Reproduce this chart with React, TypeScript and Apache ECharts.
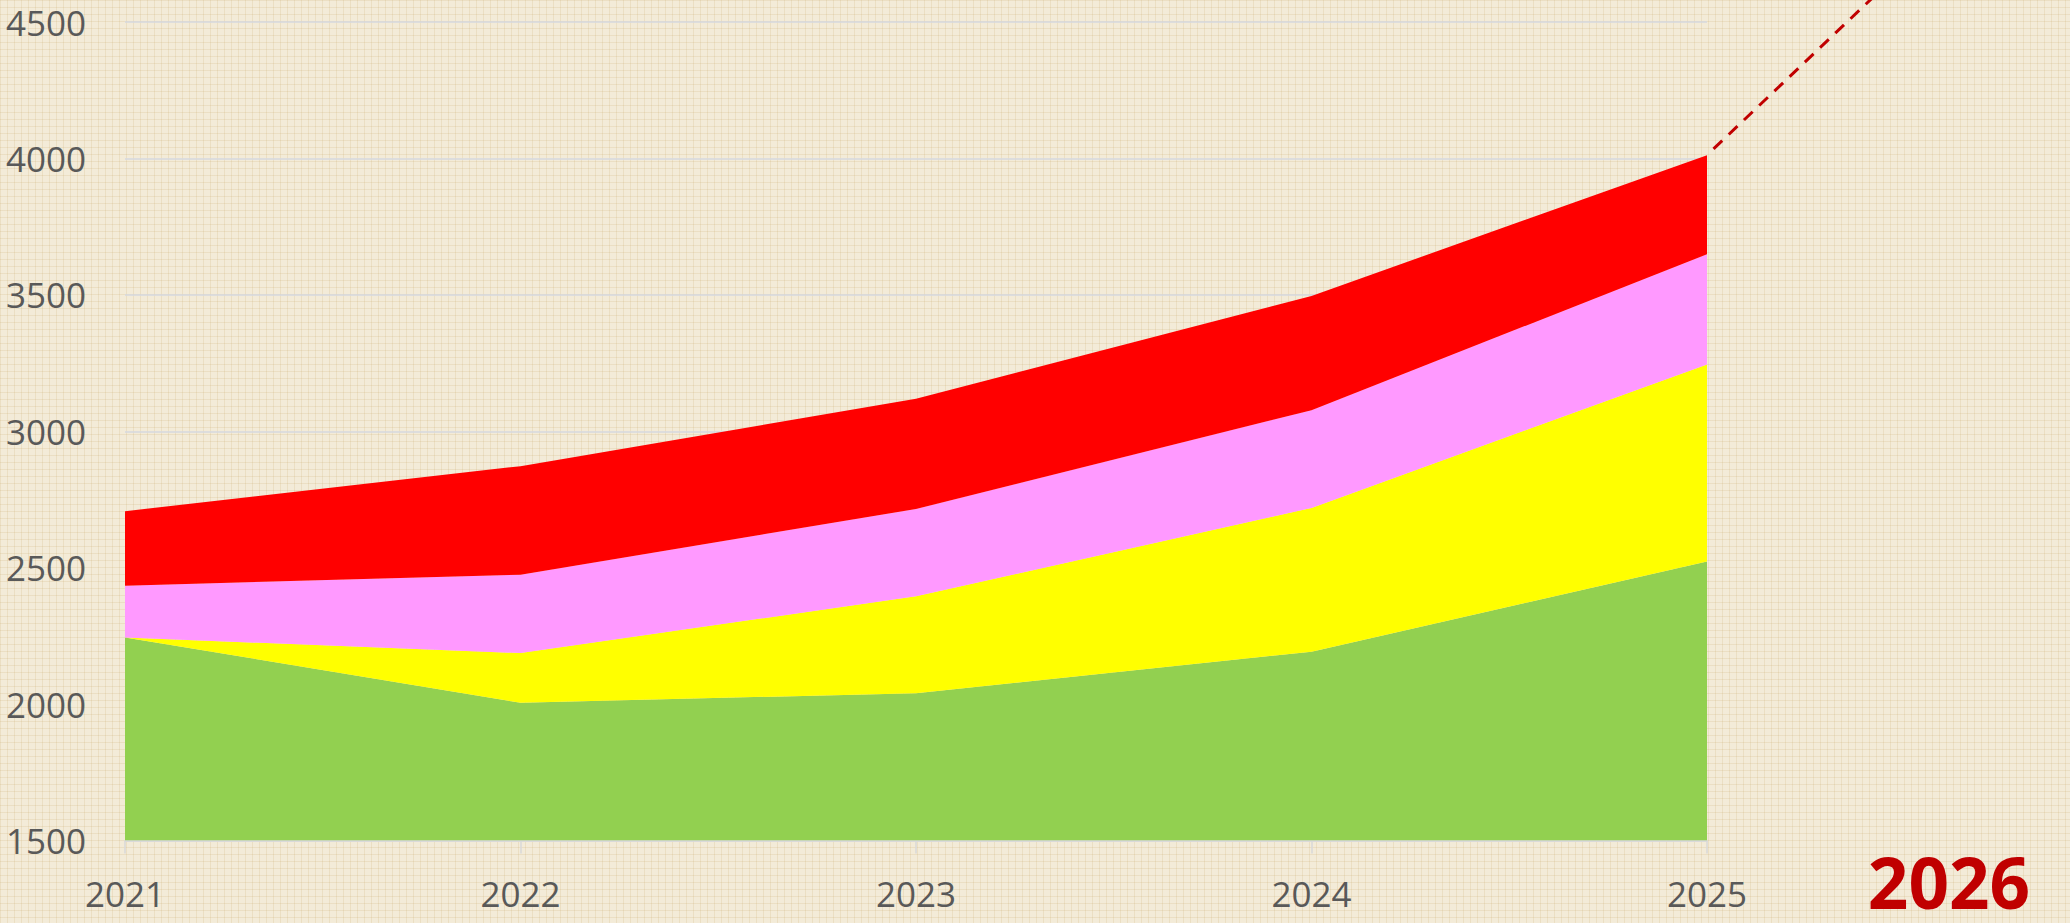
import React, { useEffect, useRef } from "react";
import * as echarts from "echarts";

const years = ["2021", "2022", "2023", "2024", "2025"];
const greenValues = [2244, 2005, 2040, 2192, 2523];
const yellowValues = [0, 182, 355, 527, 722];
const pinkValues = [190, 287, 320, 358, 404];
const redValues = [273, 398, 404, 419, 363];
const forecastYear = "2026";
const forecastValue = 5390;
const yTicks = { min: 1500, max: 4500, interval: 500 };

const FONT = "'Open Sans', 'Noto Sans', sans-serif";

export default function App() {
  const ref = useRef<HTMLDivElement>(null);
  useEffect(() => {
    document.body.style.margin = "0";
    const el = ref.current!;
    const chart = echarts.init(el, undefined, { renderer: "svg" });
    const mk = (name: string, data: number[], color: string) => ({
      name,
      type: "line",
      stack: "total",
      data,
      showSymbol: false,
      symbol: "none",
      lineStyle: { width: 0 },
      itemStyle: { color },
      areaStyle: { color, opacity: 1, origin: "start" },
    });
    chart.setOption({
      animation: false,
      backgroundColor: "transparent",
      grid: {
        left: 125,
        right: 363,
        top: 22,
        bottom: 82.5,
        containLabel: false,
        outerBoundsMode: "none",
      },
      xAxis: {
        type: "category",
        data: years,
        boundaryGap: false,
        axisLine: { lineStyle: { color: "#D9D9D9", width: 1.5 } },
        axisTick: { show: true, length: 13, lineStyle: { color: "#D9D9D9", width: 1.5 } },
        axisLabel: { color: "#595959", fontSize: 35, fontFamily: FONT, margin: 35 },
        splitLine: { show: false },
      },
      yAxis: {
        type: "value",
        min: yTicks.min,
        max: yTicks.max,
        interval: yTicks.interval,
        axisLine: { show: false },
        axisTick: { show: false },
        axisLabel: {
          color: "#595959",
          fontSize: 35,
          fontFamily: FONT,
          margin: 39,
          formatter: (v: number) => String(v),
        },
        splitLine: { lineStyle: { color: "#D6D9DF", width: 1.5 } },
      },
      series: [
        mk("Series 1", greenValues, "#92D050"),
        mk("Series 2", yellowValues, "#FFFF00"),
        mk("Series 3", pinkValues, "#FF99FF"),
        mk("Series 4", redValues, "#FF0000"),
      ],
    });

    const last = years.length - 1;
    const lastTotal =
      greenValues[last] + yellowValues[last] + pinkValues[last] + redValues[last];
    const pLast = chart.convertToPixel({ gridIndex: 0 }, [years[last], lastTotal]) as number[];
    const pPrev = chart.convertToPixel({ gridIndex: 0 }, [years[last - 1], lastTotal]) as number[];
    const step = pLast[0] - pPrev[0];
    const yF = chart.convertToPixel({ yAxisIndex: 0 }, forecastValue) as number;
    const xF = pLast[0] + step;

    chart.setOption({
      graphic: [
        {
          type: "line",
          shape: { x1: pLast[0], y1: pLast[1], x2: xF, y2: yF },
          style: {
            stroke: "#C00000",
            lineWidth: 3,
            lineDash: [12, 9],
            lineDashOffset: 12,
          },
          z: 10,
        },
        {
          type: "text",
          x: 1949,
          y: 881,
          style: {
            text: forecastYear,
            fill: "#C00000",
            font: `bold 71px ${FONT}`,
            lineHeight: 56,
            textAlign: "center",
            textVerticalAlign: "middle",
          },
          z: 10,
        },
      ],
    });

    return () => chart.dispose();
  }, []);

  return (
    <div
      ref={ref}
      style={{
        width: 2070,
        height: 923,
        backgroundColor: "#F3EBD8",
        backgroundImage:
          "linear-gradient(rgba(205,180,120,0.22) 1.5px, transparent 1.5px), linear-gradient(90deg, rgba(205,180,120,0.22) 1.5px, transparent 1.5px)",
        backgroundSize: "7px 7px",
      }}
    />
  );
}
